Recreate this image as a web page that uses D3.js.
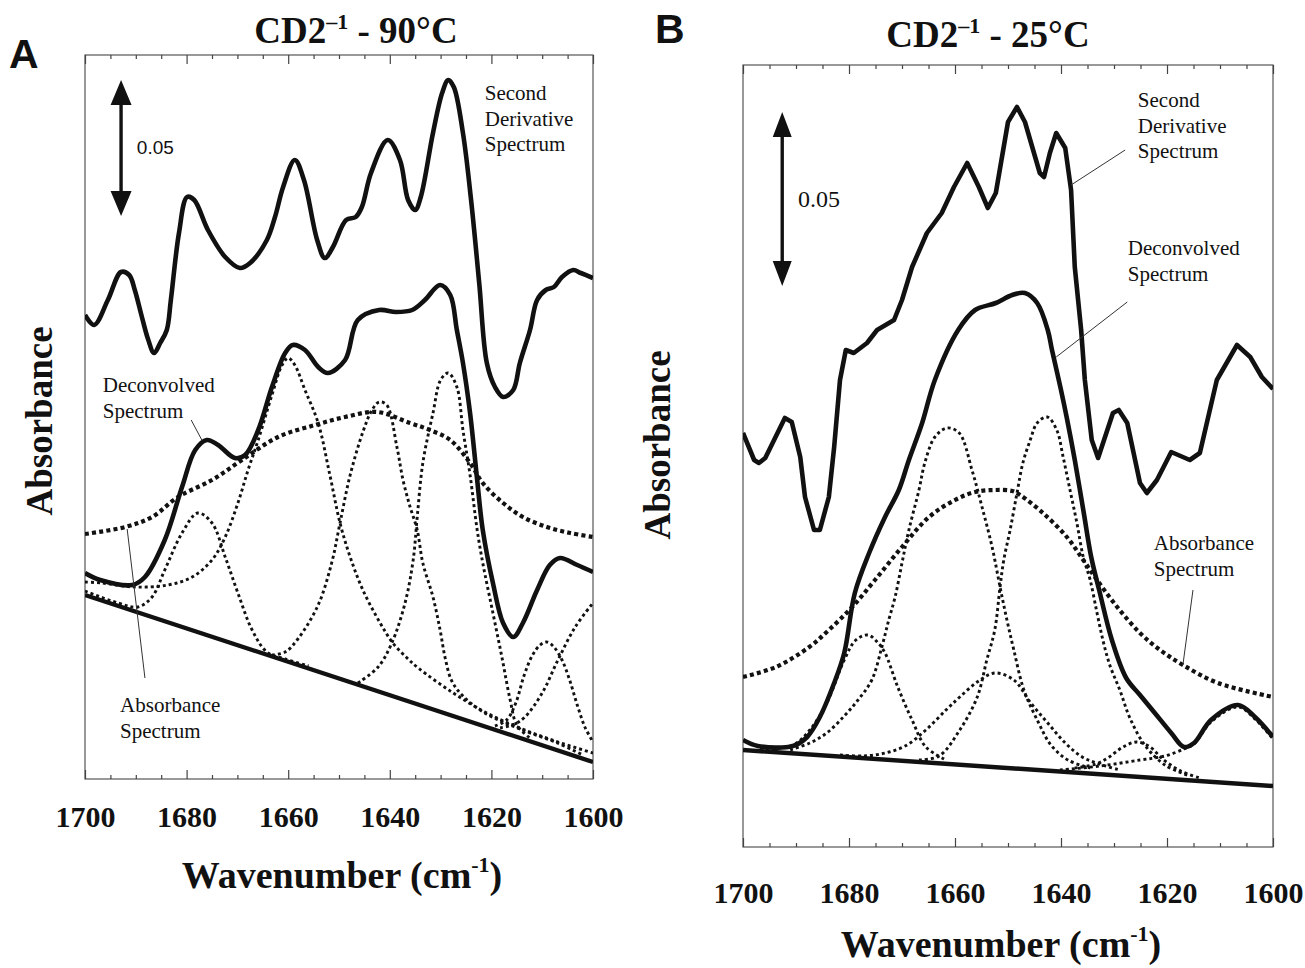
<!DOCTYPE html>
<html><head><meta charset="utf-8">
<script src="https://cdn.jsdelivr.net/npm/d3@7"></script>
<style>body{margin:0;background:#fff;} svg{display:block}</style>
</head><body>
<svg id="c" width="1305" height="968"></svg>
<script>
// ---------- shared axis data ----------
const xMajorTicks = [1700, 1680, 1660, 1640, 1620, 1600];
const xMinorTicks = [1695,1690,1685,1675,1670,1665,1655,1650,1645,1635,1630,1625,1615,1610,1605];

// ---------- Panel A (90 °C) : [wavenumber, absorbance (a.u.)] ----------
const A_secondDerivative = [[1700,46.4],[1698.2,45.4],[1695.5,47.9],[1692.9,50.7],[1691.3,50.4],[1690.2,48.9],[1688.8,46.2],[1687.6,44.0],[1686.4,42.6],[1685.2,43.6],[1683.9,44.9],[1683.1,47.9],[1681.5,54.6],[1679.9,58.2],[1678.5,57.9],[1675.8,54.9],[1672.4,52.2],[1669.5,51.1],[1667.5,51.6],[1664.2,53.9],[1662.6,56.2],[1661,59.2],[1658.7,61.9],[1656.9,59.9],[1654.3,53.9],[1652.8,52.1],[1651.2,53.2],[1648.6,55.9],[1646.7,56.2],[1645.5,57.2],[1643.7,60.6],[1640.4,63.9],[1638,61.9],[1636.4,57.9],[1635,56.9],[1633.9,58.2],[1631.5,64.6],[1629.7,68.6],[1628.5,69.9],[1627.4,69.2],[1625.6,64.6],[1624,57.9],[1622.4,49.6],[1620.9,41.6],[1619.3,39.2],[1617.7,38.2],[1615.7,38.9],[1614.4,41.6],[1612.4,44.9],[1611,47.9],[1609.3,48.9],[1607.7,49.2],[1606.1,50.2],[1603.9,50.9],[1602.4,50.6],[1600,50.1]];
const A_deconvolved = [[1700,20.6],[1697,19.9],[1690.7,19.4],[1688.2,20.2],[1684.3,23.9],[1680.9,29.2],[1678.3,32.9],[1676,33.9],[1673.8,33.4],[1670.5,32.1],[1668.5,32.4],[1665.9,34.9],[1663.2,39.2],[1660.6,42.6],[1659.1,43.4],[1656.7,42.9],[1654.1,41.2],[1652.2,40.6],[1648.8,41.9],[1646.3,45.9],[1642.1,46.9],[1638.8,46.7],[1635.6,46.9],[1633.1,47.9],[1630.1,49.4],[1628.1,48.4],[1626.8,44.9],[1625.6,41.6],[1624.2,36.6],[1622.8,29.9],[1621.7,24.9],[1619.7,19.6],[1617.7,15.6],[1615.7,14.2],[1613.8,15.6],[1611,18.9],[1608.5,21.4],[1606.5,22.1],[1603.1,21.4],[1600,20.7]];
const A_absorbance = [[1700,24.5],[1692.1,25.2],[1686.8,26.2],[1681.7,28.2],[1675,29.9],[1669.1,31.9],[1662,34.2],[1654.7,35.4],[1648.8,36.2],[1642.5,36.7],[1636,35.6],[1632.1,34.9],[1628.1,33.9],[1624.2,31.6],[1621.7,29.6],[1617.7,27.6],[1613.8,26.2],[1609.1,25.2],[1604.5,24.6],[1600,24.2]];
const A_baseline = [[1700,18.4],[1600,1.7]];
const A_band1678 = [[1700,18.8],[1693.5,17.6],[1689.6,17.2],[1686.8,18.2],[1684.3,20.9],[1680.9,24.6],[1677.8,26.6],[1675,25.6],[1672.4,22.2],[1669.9,18.6],[1667.1,14.9],[1664.2,12.7],[1660.6,12.0],[1656,11.3]];
const A_band1660 = [[1700,19.7],[1696.7,19.6],[1690.2,19.2],[1683.7,19.4],[1678.9,20.2],[1675,21.9],[1672.4,24.2],[1669.9,27.6],[1667.9,30.9],[1665.9,33.9],[1663.2,38.4],[1661.2,41.4],[1660,42.1],[1658.7,41.4],[1656.7,38.9],[1654.1,35.6],[1651.8,30.4],[1649.8,25.6],[1647.8,22.2],[1645.3,18.9],[1641.9,15.6],[1639.4,13.6],[1636.6,12.1],[1634.4,11.1],[1627.8,8.7],[1621.3,6.7],[1614.4,5.1],[1607.5,3.8],[1600,2.6]];
const A_band1643 = [[1663.2,12.4],[1660.6,12.7],[1658.1,14.0],[1654.1,17.4],[1651.4,21.7],[1649.8,25.6],[1647.8,30.4],[1645.3,34.7],[1643.5,36.9],[1642.1,37.7],[1640.6,37.4],[1638.6,33.2],[1637.4,29.9],[1636,27.2],[1634.6,24.9],[1633.5,21.6],[1631.5,18.2],[1630.1,14.9],[1629.1,12.1],[1627.8,9.8],[1625.6,8.3],[1621.3,6.6],[1614.4,5.0],[1607,3.6],[1602,2.4]];
const A_band1629 = [[1646.3,9.6],[1642.3,11.2],[1639.6,13.6],[1637,17.6],[1635.4,21.9],[1634.6,26.2],[1633.5,31.6],[1631.5,36.6],[1630,39.9],[1628.5,40.6],[1626.8,39.2],[1625.6,34.9],[1624.2,30.4],[1622.8,24.9],[1621.7,21.6],[1619.7,16.6],[1617.9,12.1],[1616.3,7.9],[1615,5.4],[1612.4,4.1]];
const A_band1609 = [[1619.3,5.3],[1617,5.9],[1615.2,7.6],[1613.6,10.3],[1612,12.3],[1610.4,13.4],[1609.1,13.7],[1607.7,13.2],[1606.1,11.9],[1604.6,9.9],[1603.1,7.4],[1601.6,5.2],[1600,3.7]];
const A_band1595 = [[1618.3,5.1],[1615.4,5.5],[1613.4,6.2],[1610,8.6],[1606.9,11.9],[1603.5,15.2],[1600,17.6]];

// ---------- Panel B (25 °C) ----------
const B_secondDerivative = [[1700,41.4],[1697.9,38.7],[1697,38.4],[1695.8,38.9],[1692.1,42.9],[1690.8,42.5],[1689.2,39.0],[1688.3,35.0],[1686.6,31.7],[1685.5,31.7],[1683.8,35.0],[1682.8,40.0],[1681.7,46.7],[1680.6,49.7],[1679.1,49.4],[1676.6,50.4],[1674.7,51.7],[1671.5,52.7],[1670,54.7],[1668.1,58.0],[1665.3,61.4],[1662.5,63.4],[1660.2,66.0],[1657.7,68.4],[1655.5,66.0],[1653.8,63.9],[1652.3,65.4],[1650,72.5],[1648.3,74.0],[1646.8,72.5],[1644,67.4],[1643.2,67.0],[1642.1,69.4],[1640.9,71.4],[1639.2,69.9],[1638.1,65.7],[1637.4,58.0],[1636.2,51.7],[1635.5,46.7],[1634.2,40.7],[1633,38.9],[1630.2,43.4],[1629.1,43.7],[1627.5,42.4],[1625.1,36.4],[1623.8,35.4],[1621.9,36.7],[1619.2,39.5],[1615.7,38.7],[1613.8,39.4],[1610.6,46.7],[1606.8,50.2],[1604.3,49.0],[1602.1,47.0],[1600,45.8]];
const B_deconvolved = [[1700,10.7],[1697.2,10.1],[1690.6,10.1],[1687.9,11.0],[1685.5,13.0],[1682.8,16.4],[1680.9,19.4],[1678.9,25.4],[1676.2,29.4],[1673.2,33.0],[1670.6,35.7],[1668.7,38.7],[1666.2,42.4],[1663.8,46.7],[1659.4,51.7],[1656.2,53.7],[1652.3,54.4],[1649.2,55.2],[1646.8,55.4],[1644.5,54.4],[1642.5,51.7],[1641.7,49.7],[1640,45.7],[1638.9,42.9],[1637.4,38.7],[1635.7,33.4],[1634.3,29.0],[1632.8,25.7],[1630.4,20.7],[1627.7,16.9],[1625.1,15.2],[1622.3,13.4],[1619.2,11.4],[1616.8,10.0],[1614.9,10.4],[1611.7,12.7],[1606.6,14.2],[1603.4,13.0],[1600,11.0]];
const B_absorbance = [[1700,17.0],[1693.8,18.0],[1687.5,20.0],[1683.8,21.7],[1679.4,24.0],[1675.1,26.7],[1670,30.0],[1664.9,33.0],[1660,34.7],[1656.2,35.5],[1652.5,35.7],[1649.2,35.6],[1647.7,35.2],[1643.4,33.4],[1638.9,31.0],[1635.8,28.7],[1633.2,26.7],[1629.4,24.0],[1625.1,21.4],[1621.3,19.7],[1617,18.2],[1610.4,16.4],[1600,15.0]];
const B_baseline = [[1700,9.7],[1600,6.1]];
const B_band1677 = [[1696.8,9.8],[1690.6,10.2],[1687.4,11.7],[1684.2,14.4],[1680.9,18.7],[1678.7,20.7],[1676.4,21.2],[1674.5,20.4],[1673.2,19.4],[1670.8,16.0],[1668.1,12.7],[1665.5,10.0],[1661.7,8.7]];
const B_band1662 = [[1691.1,9.7],[1687.4,10.4],[1684.2,11.4],[1680.9,13.1],[1678.3,14.7],[1675.7,16.7],[1673.8,20.0],[1672.5,22.7],[1671.3,25.0],[1670,28.4],[1668.7,31.7],[1666.8,35.7],[1665.7,38.4],[1663.8,41.0],[1661.5,41.9],[1659.2,41.4],[1656.8,37.7],[1654.9,34.0],[1653,30.0],[1651.5,26.0],[1650.2,22.7],[1648.9,19.7],[1647,15.7],[1644.3,12.5],[1641.9,10.2],[1638.7,8.7],[1634.5,7.9]];
const B_band1643 = [[1666.8,8.7],[1663,9.1],[1659.1,11.7],[1655.8,15.0],[1654,18.7],[1652.5,21.7],[1651.5,26.0],[1650.8,28.7],[1649.6,31.7],[1648.3,35.4],[1647.2,38.4],[1645.8,40.7],[1644.5,42.4],[1642.6,43.0],[1640.8,41.7],[1639.6,39.0],[1638.3,35.7],[1637,32.4],[1635.8,29.0],[1634.5,26.7],[1633.2,23.4],[1632.1,20.7],[1630.8,18.2],[1628.9,15.7],[1627,12.9],[1624.2,10.2],[1620.4,8.2],[1615.7,7.1]];
const B_band1652 = [[1681.7,9.2],[1677.2,9.1],[1673.2,9.4],[1669.4,10.1],[1665.5,11.7],[1661.7,13.7],[1659.1,15.0],[1655.8,16.5],[1652.5,17.4],[1648.9,16.7],[1645.7,14.4],[1642.5,12.4],[1639.2,10.4],[1636,9.0],[1632.8,8.3],[1628.9,7.7]];
const B_band1625 = [[1637.4,7.9],[1633.4,8.3],[1630.9,9.0],[1628.3,10.0],[1625.7,10.5],[1623.2,10.0],[1620.6,8.7],[1617.4,7.6],[1613.8,6.9]];
const B_band1606 = [[1640.2,7.7],[1632.6,8.1],[1625.1,8.7],[1620.4,9.1],[1616.8,9.8],[1614.9,10.3],[1611.7,12.5],[1606.6,14.0],[1603.4,12.8],[1600,10.8]];

// ---------- annotations (data coordinates) ----------
const A_labels = [
  {lines:["Second","Derivative","Spectrum"], w:1621.3, v:67.9},
  {lines:["Deconvolved","Spectrum"], w:1696.5, v:38.7},
  {lines:["Absorbance","Spectrum"], w:1693.1, v:6.7}
];
const A_leaders = [[[1679.1,35.9],[1677,33.9]], [[1691.7,25.0],[1688.2,10.1]]];
const A_scaleBar = {w:1692.9, v0:56.3, len:13.6, label:"0.05", lw:1689.8, lv:62.5};
const B_labels = [
  {lines:["Second","Derivative","Spectrum"], w:1625.5, v:74.0},
  {lines:["Deconvolved","Spectrum"], w:1627.4, v:59.2},
  {lines:["Absorbance","Spectrum"], w:1622.5, v:29.7}
];
const B_leaders = [[[1627.9,69.7],[1638.1,66.2]], [[1627.5,54.5],[1640.9,49.0]], [[1615.1,25.7],[1617,18.2]]];
const B_scaleBar = {w:1692.6, v0:56.1, len:17.4, label:"0.05", lw:1689.6, lv:64.0};

// ---------- drawing ----------
const svg = d3.select("#c");
const serif = "'Liberation Serif','Times New Roman',serif";
const sans = "'Liberation Sans',Arial,sans-serif";
const ink = "#111";
const defs = svg.append("defs");

function panel(cfg){
  const {id,left,right,top,bottom,yMax} = cfg;
  const x = d3.scaleLinear().domain([1700,1600]).range([left,right]);
  const y = d3.scaleLinear().domain([0,yMax]).range([bottom,top]);
  const g = svg.append("g");
  defs.append("clipPath").attr("id","clip"+id).append("rect")
    .attr("x",left).attr("y",top).attr("width",right-left).attr("height",bottom-top);

  // frame
  g.append("rect").attr("x",left).attr("y",top).attr("width",right-left).attr("height",bottom-top)
    .attr("fill","none").attr("stroke","#555").attr("stroke-width",1.2);

  const styleTicks = s => { s.select(".domain").remove(); s.selectAll("line").attr("stroke","#444").attr("stroke-width",1.2); };
  g.append("g").attr("transform",`translate(0,${bottom})`)
    .call(d3.axisBottom(x).tickValues(xMajorTicks).tickSize(-9).tickFormat("")).call(styleTicks);
  g.append("g").attr("transform",`translate(0,${bottom})`)
    .call(d3.axisBottom(x).tickValues(xMinorTicks).tickSize(-4).tickFormat("")).call(styleTicks);
  g.append("g").attr("transform",`translate(0,${top})`)
    .call(d3.axisTop(x).tickValues(xMajorTicks).tickSize(-9).tickFormat("")).call(styleTicks);
  g.append("g").attr("transform",`translate(0,${top})`)
    .call(d3.axisTop(x).tickValues(xMinorTicks).tickSize(-4).tickFormat("")).call(styleTicks);
  // tick labels
  g.append("g").attr("transform",`translate(0,${bottom})`)
    .call(d3.axisBottom(x).tickValues(xMajorTicks).tickSize(0).tickFormat(d3.format("d")))
    .call(s => { s.select(".domain").remove();
      s.selectAll("text").attr("y",cfg.tickLabelOffset).attr("dy",0)
        .attr("font-family",serif).attr("font-weight","bold").attr("font-size",30).attr("fill",ink); });

  // curves
  const line = d3.line().x(d=>x(d[0])).y(d=>y(d[1])).curve(d3.curveCatmullRom.alpha(0.5));
  const lineLin = d3.line().x(d=>x(d[0])).y(d=>y(d[1]));
  const cg = g.append("g").attr("clip-path",`url(#clip${id})`).attr("fill","none").attr("stroke",ink);
  cfg.bands.forEach(b => cg.append("path").attr("d",line(b))
    .attr("stroke-width",2.9).attr("stroke-dasharray","3,3"));
  cg.append("path").attr("d",line(cfg.absorbance)).attr("stroke-width",4.2).attr("stroke-dasharray","4,3.2");
  cg.append("path").attr("d",lineLin(cfg.baseline)).attr("stroke-width",4.4);
  cg.append("path").attr("d",line(cfg.deconvolved)).attr("stroke-width",4.6).attr("stroke-linejoin","round");
  cg.append("path").attr("d",(cfg.sdLinear?lineLin:line)(cfg.secondDerivative)).attr("stroke-width",4.6).attr("stroke-linejoin","round");

  // labels
  cfg.labels.forEach(L => {
    const t = g.append("text").attr("font-family",serif).attr("font-size",21).attr("fill",ink);
    L.lines.forEach((s,i)=> t.append("tspan").attr("x",x(L.w)).attr("y",y(L.v)+i*25.5).text(s));
  });
  cfg.leaders.forEach(l => g.append("line")
    .attr("x1",x(l[0][0])).attr("y1",y(l[0][1])).attr("x2",x(l[1][0])).attr("y2",y(l[1][1]))
    .attr("stroke","#333").attr("stroke-width",1));

  // scale bar arrow
  const sb = cfg.scaleBar;
  const xa = x(sb.w), ya = y(sb.v0), yb = y(sb.v0+sb.len);
  const hw = cfg.headW/2, hl = 25;
  g.append("line").attr("x1",xa).attr("x2",xa).attr("y1",yb+hl-2).attr("y2",ya-hl+2)
    .attr("stroke",ink).attr("stroke-width",3.4);
  g.append("path").attr("fill",ink)
    .attr("d",`M${xa},${yb} L${xa-hw},${yb+hl} L${xa+hw},${yb+hl} Z M${xa},${ya} L${xa-hw},${ya-hl} L${xa+hw},${ya-hl} Z`);
  g.append("text").attr("x",x(sb.lw)).attr("y",y(sb.lv)).text(sb.label)
    .attr("font-family",cfg.sbFont).attr("font-size",cfg.sbSize).attr("fill",ink);

  // axis titles
  g.append("text").attr("transform",`translate(${cfg.yTitleX},${cfg.yTitleY}) rotate(-90)`)
    .attr("text-anchor","middle").attr("font-family",serif).attr("font-weight","bold")
    .attr("font-size",37).attr("fill",ink).text("Absorbance");
  const xt = g.append("text").attr("x",(left+right)/2 + cfg.xTitleDx).attr("y",cfg.xTitleY)
    .attr("text-anchor","middle").attr("font-family",serif).attr("font-weight","bold")
    .attr("font-size",38).attr("fill",ink);
  xt.append("tspan").text("Wavenumber (cm");
  xt.append("tspan").attr("font-size",22).attr("dy",-16).text("-1");
  xt.append("tspan").attr("dy",16).text(")");

  // title
  const tt = g.append("text").attr("x",cfg.titleX).attr("y",cfg.titleY).attr("text-anchor","middle")
    .attr("font-family",serif).attr("font-weight","bold").attr("font-size",37).attr("fill",ink);
  tt.append("tspan").text("CD2");
  tt.append("tspan").attr("font-size",22).attr("dy",-14).text("\u20131");
  tt.append("tspan").attr("dy",14).text(" - " + cfg.temp);

  // panel letter
  svg.append("text").attr("x",cfg.letterX).attr("y",cfg.letterY).text(cfg.letter)
    .attr("font-family",sans).attr("font-weight","bold").attr("font-size",41).attr("fill",ink);
}

panel({id:"A", letter:"A", letterX:9, letterY:68, temp:"90°C", titleX:356, titleY:43,
  left:85, right:593, top:55, bottom:779, yMax:72.4, tickLabelOffset:48,
  xTitleY:888, xTitleDx:3, yTitleX:52, yTitleY:421,
  secondDerivative:A_secondDerivative, deconvolved:A_deconvolved, absorbance:A_absorbance,
  baseline:A_baseline, bands:[A_band1678,A_band1660,A_band1643,A_band1629,A_band1609,A_band1595],
  labels:A_labels, leaders:A_leaders, scaleBar:A_scaleBar, headW:21, sbFont:sans, sbSize:19});

panel({id:"B", letter:"B", letterX:655, letterY:43, temp:"25°C", titleX:988, titleY:47,
  left:743, right:1273, top:65, bottom:847, yMax:78.2, tickLabelOffset:56,
  xTitleY:957, xTitleDx:-7, yTitleX:670, yTitleY:445, sdLinear:true,
  secondDerivative:B_secondDerivative, deconvolved:B_deconvolved, absorbance:B_absorbance,
  baseline:B_baseline, bands:[B_band1677,B_band1662,B_band1643,B_band1652,B_band1625,B_band1606],
  labels:B_labels, leaders:B_leaders, scaleBar:B_scaleBar, headW:19, sbFont:serif, sbSize:24});
</script>
</body></html>
